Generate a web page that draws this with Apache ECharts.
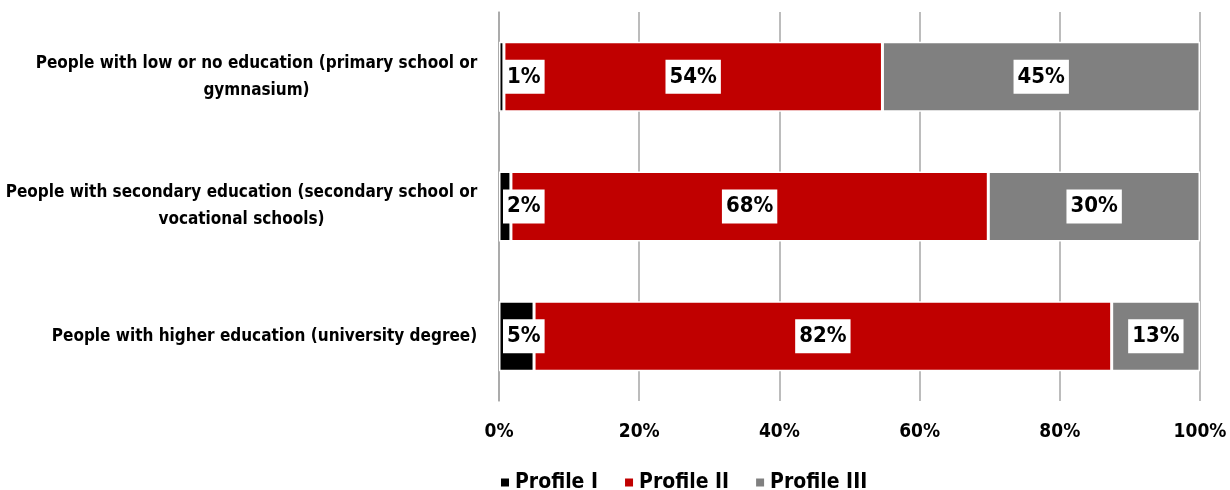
<!DOCTYPE html>
<html><head><meta charset="utf-8">
<script src="https://cdn.jsdelivr.net/npm/echarts@6/dist/echarts.min.js"></script>
<style>html,body{margin:0;padding:0;background:#fff}#c{width:1230px;height:490px}</style>
</head><body><div id="c"></div>
<script>
const categories = [
  "People with low or no education (primary school or\ngymnasium)",
  "People with secondary education (secondary school or\nvocational schools)",
  "People with higher education (university degree)"
];
const profileI = [0.7, 1.7, 5.0];
const profileII = [54.0, 68.1, 82.4];
const profileIII = [45.3, 30.2, 12.6];
const xTicks = [0, 20, 40, 60, 80, 100];

const FONT = '"Liberation Sans Narrow", "DejaVu Sans Condensed", "Arial Narrow", sans-serif';
const CAT_SIZE = 17;
const ctx = document.createElement('canvas').getContext('2d');
ctx.font = 'bold ' + CAT_SIZE + 'px ' + FONT;
const rich = {};
categories.forEach((c, i) => {
  const w = Math.max(...c.split('\n').map(l => ctx.measureText(l).width));
  rich['c' + i] = { width: Math.ceil(w) + 1, align: 'center', fontFamily: FONT, fontWeight: 'bold',
    fontSize: CAT_SIZE, lineHeight: 27, color: '#000' };
});

const labelStyle = {
  show: true,
  formatter: p => Math.round(p.value) + '%',
  backgroundColor: '#fff',
  padding: [7, 4, 5, 4],
  color: '#000',
  fontFamily: FONT,
  fontWeight: 'bold',
  fontSize: 22
};
function mk(name, data, color, pos) {
  return {
    name, type: 'bar', stack: 'total', data, barWidth: 70,
    itemStyle: { color, borderColor: '#fff', borderWidth: 1.5 },
    label: Object.assign({}, labelStyle, { position: pos, distance: 4 })
  };
}
const chart = echarts.init(document.getElementById('c'));
chart.setOption({
  animation: false,
  grid: { left: 499, right: 30, top: 12, bottom: 89, containLabel: false, outerBoundsMode: 'none' },
  xAxis: {
    type: 'value', min: 0, max: 100, interval: 20,
    axisLine: { show: false }, axisTick: { show: false },
    splitLine: { show: true, lineStyle: { color: '#a6a6a6', width: 1.5 } },
    axisLabel: { formatter: v => xTicks.includes(v) ? v + '%' : '', margin: 22,
      fontFamily: FONT, fontWeight: 'bold', fontSize: 19, color: '#000' }
  },
  yAxis: {
    type: 'category', data: categories, inverse: true,
    axisLine: { show: true, lineStyle: { color: '#a6a6a6', width: 1.5 } },
    axisTick: { show: false },
    axisLabel: {
      margin: 21, align: 'right', lineHeight: 27,
      formatter: (v, i) => v.split('\n').map(l => '{c' + i + '|' + l + '}').join('\n'),
      rich
    }
  },
  legend: {
    top: 467, left: 494, itemWidth: 10, itemHeight: 10, itemGap: 25,
    icon: 'rect',
    textStyle: { fontFamily: FONT, fontWeight: 'bold', fontSize: 21, color: '#000' },
    data: ['Profile I', 'Profile II', 'Profile III']
  },
  series: [
    mk('Profile I', profileI, '#000000', 'insideLeft'),
    mk('Profile II', profileII, '#c00000', 'inside'),
    mk('Profile III', profileIII, '#808080', 'inside')
  ]
});
</script></body></html>
